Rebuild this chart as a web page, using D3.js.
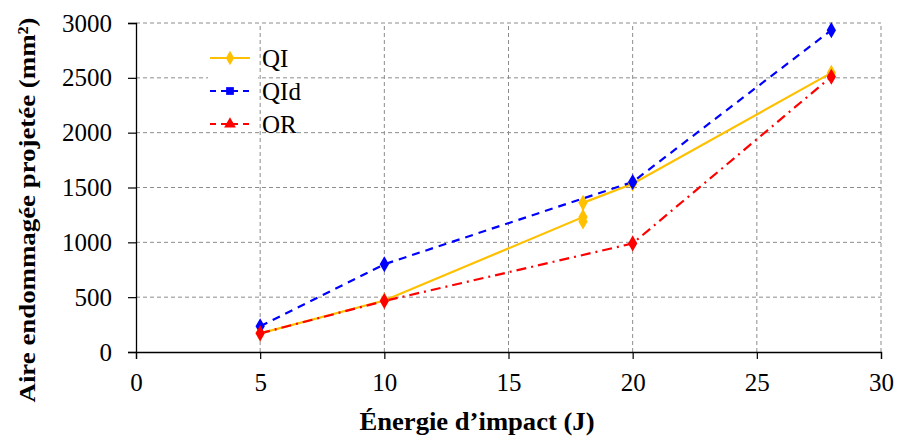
<!DOCTYPE html>
<html lang="fr">
<head>
<meta charset="UTF-8">
<script src="https://cdn.jsdelivr.net/npm/d3@7"></script>
<style>
    body { margin: 0; background: white; }
</style>
</head>
<body>
<div id="chart"></div>
<script>
    // data
    const qiX = [5, 10, 18, 18, 18, 20, 28];
    const qiY = [170, 470, 1230, 1190, 1360, 1535, 2545];
    const qidX = [5, 10, 20, 28];
    const qidY = [235, 800, 1550, 2935];
    const orX = [5, 10, 20, 28];
    const orY = [170, 465, 990, 2510];

    const xTicks = [0, 5, 10, 15, 20, 25, 30];
    const yTicks = [0, 500, 1000, 1500, 2000, 2500, 3000];

    const series = [
        {name: "QI", xs: qiX, ys: qiY, color: "#ffc000", dash: null, legendMark: "diamond"},
        {name: "QId", xs: qidX, ys: qidY, color: "#0000ff", dash: "8,6", legendMark: "square"},
        {name: "OR", xs: orX, ys: orY, color: "#ff0000", dash: "10,5,2,5", legendMark: "triangle"}
    ];

    const FONT = "Liberation Serif";
    const width = 897, height = 441;
    const margin = {top: 23, right: 16, bottom: 89, left: 136};

    const svg = d3.select("#chart").append("svg")
        .attr("width", width)
        .attr("height", height);

    const x = d3.scaleLinear().domain([0, 30]).range([margin.left, width - margin.right]);
    const y = d3.scaleLinear().domain([0, 3000]).range([height - margin.bottom, margin.top]);

    // grid
    const grid = svg.append("g").attr("stroke", "#8c8c8c").attr("stroke-dasharray", "4,3").attr("stroke-width", 1);
    xTicks.filter(t => t > 0).forEach(t => {
        grid.append("line").attr("x1", x(t)).attr("x2", x(t)).attr("y1", y(0)).attr("y2", y(3000));
    });
    yTicks.filter(t => t > 0).forEach(t => {
        grid.append("line").attr("x1", x(0)).attr("x2", x(30)).attr("y1", y(t)).attr("y2", y(t));
    });

    // axes
    const xAxis = svg.append("g")
        .attr("transform", `translate(0,${y(0)})`)
        .call(d3.axisBottom(x).tickValues(xTicks).tickFormat(d3.format("d")).tickSize(7).tickPadding(14));
    const yAxis = svg.append("g")
        .attr("transform", `translate(${x(0)},0)`)
        .call(d3.axisLeft(y).tickValues(yTicks).tickFormat(d3.format("d")).tickSize(8).tickPadding(16));
    [xAxis, yAxis].forEach(a => {
        a.select(".domain").attr("stroke", "#000").attr("stroke-width", 1.3);
        a.selectAll(".tick line").attr("stroke", "#000").attr("stroke-width", 1.2);
        a.selectAll("text").attr("fill", "#000").attr("font-size", 25);
    });

    // series
    const diamond = d3.symbol().type(d3.symbolDiamond).size(75);
    const line = d3.line().x(d => x(d[0])).y(d => y(d[1]));
    series.forEach(s => {
        const pts = s.xs.map((v, i) => [v, s.ys[i]]);
        svg.append("path")
            .datum(pts)
            .attr("d", line)
            .attr("fill", "none")
            .attr("stroke", s.color)
            .attr("stroke-width", 2.2)
            .attr("stroke-dasharray", s.dash);
    });
    series.forEach(s => {
        const pts = s.xs.map((v, i) => [v, s.ys[i]]);
        svg.append("g").selectAll("path")
            .data(pts)
            .enter()
            .append("path")
            .attr("transform", d => `translate(${x(d[0])},${y(d[1])})`)
            .attr("d", diamond)
            .attr("fill", s.color);
    });

    // legend
    const legend = svg.append("g").attr("transform", "translate(210,58)");
    legend.append("rect").attr("x", -2).attr("y", -14).attr("width", 50).attr("height", 82).attr("fill", "white");
    series.forEach((s, i) => {
        const g = legend.append("g").attr("transform", `translate(0,${i * 33})`);
        g.append("line").attr("x1", 0).attr("x2", 40).attr("y1", 0).attr("y2", 0)
            .attr("stroke", s.color).attr("stroke-width", 2.2)
            .attr("stroke-dasharray", s.dash ? "6,5" : null);
        const typ = s.legendMark === "diamond" ? d3.symbolDiamond : s.legendMark === "square" ? d3.symbolSquare : d3.symbolTriangle;
        g.append("path").attr("transform", "translate(20,0)")
            .attr("d", d3.symbol().type(typ).size(60)).attr("fill", s.color);
        g.append("text").attr("x", 52).attr("y", 9).attr("font-size", 25).attr("fill", "#000").text(s.name);
    });

    // axis titles
    svg.append("text")
        .attr("x", 477).attr("y", 430)
        .attr("text-anchor", "middle")
        .attr("font-size", 25).attr("font-weight", "bold")
        .attr("textLength", 235).attr("lengthAdjust", "spacingAndGlyphs")
        .text("Énergie d’impact (J)");
    svg.append("text")
        .attr("transform", "translate(35,210) rotate(-90)")
        .attr("text-anchor", "middle")
        .attr("font-size", 24).attr("font-weight", "bold")
        .attr("textLength", 385).attr("lengthAdjust", "spacingAndGlyphs")
        .text("Aire endommagée projetée (mm²)");

    // serif everywhere, set on each text node
    svg.selectAll("text").attr("font-family", FONT);
</script>
</body>
</html>
